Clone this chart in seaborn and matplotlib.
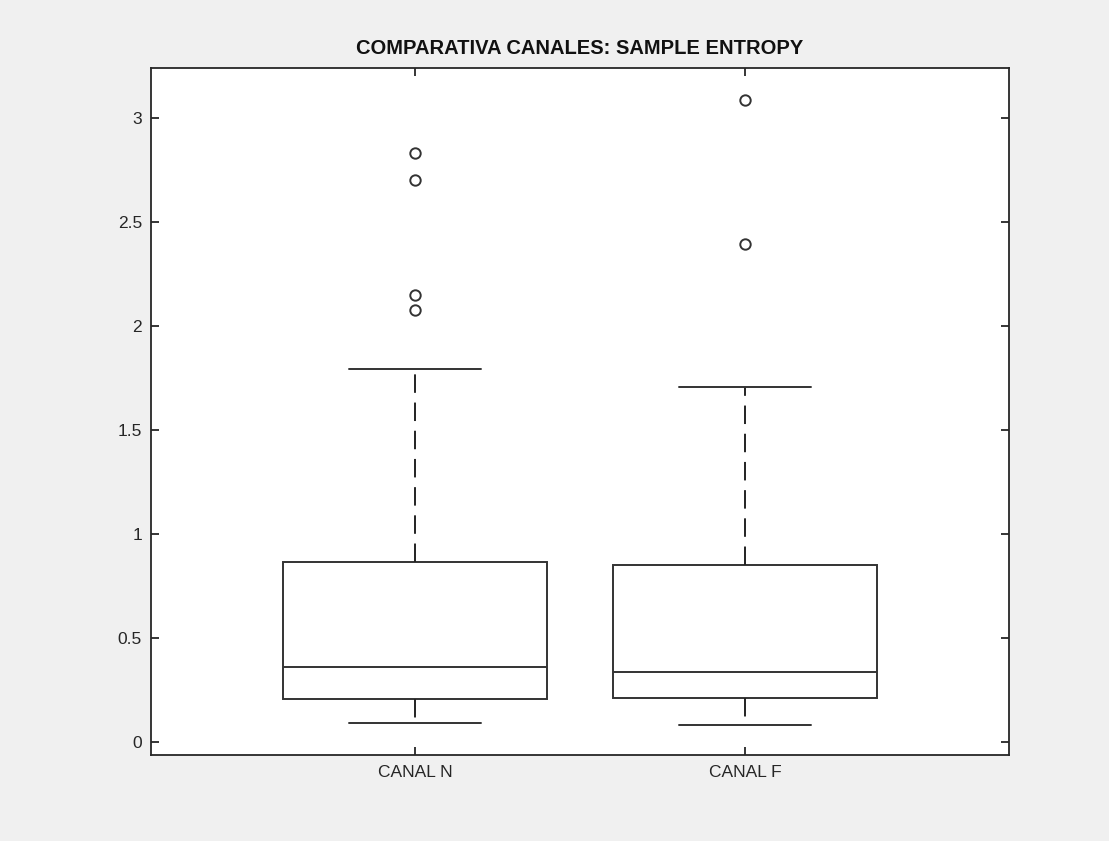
import numpy as np
import pandas as pd
import matplotlib
matplotlib.use("Agg")
import matplotlib.pyplot as plt
import seaborn as sns

canal_n = [0.093, 0.11, 0.13, 0.16, 0.18, 0.205, 0.23, 0.26, 0.29, 0.32, 0.359,
           0.42, 0.51, 0.63, 0.75, 0.867, 1.792, 2.079, 2.147, 2.704, 2.830]
canal_f = [0.082, 0.10, 0.13, 0.16, 0.19, 0.211, 0.23, 0.25, 0.28, 0.31, 0.336,
           0.40, 0.49, 0.60, 0.72, 0.851, 1.10, 1.45, 1.707, 2.396, 3.088]
categories = ["CANAL N", "CANAL F"]
yticks = [0, 0.5, 1, 1.5, 2, 2.5, 3]
ytick_labels = ["0", "0.5", "1", "1.5", "2", "2.5", "3"]
title = "COMPARATIVA CANALES: SAMPLE ENTROPY"

df = pd.DataFrame({
    "canal": [categories[0]] * len(canal_n) + [categories[1]] * len(canal_f),
    "valor": canal_n + canal_f,
})

sns.set_style("white")
plt.rcParams["font.family"] = ["Liberation Sans", "DejaVu Sans"]

edge = "#262626"
line = "#333333"
fig = plt.figure(figsize=(11.09, 8.41), dpi=100, facecolor="#f0f0f0")
ax = fig.add_axes([151 / 1109, 1 - 755 / 841, (1009 - 151) / 1109, (755 - 68) / 841])
ax.set_facecolor("white")

sns.boxplot(
    data=df, x="canal", y="valor", order=categories, ax=ax,
    color="white", linecolor=line, width=0.8, linewidth=1.4, saturation=1,
    whis=1.5,
    boxprops=dict(facecolor="white", edgecolor=line),
    whiskerprops=dict(linestyle=(0, (9.5, 5)), color="#222222"),
    capprops=dict(color=line),
    medianprops=dict(color=line),
    flierprops=dict(marker="o", markerfacecolor="none", markeredgecolor=line,
                    markersize=7.5, markeredgewidth=1.4),
)

ax.set_xlim(-0.8, 1.8)
ax.set_ylim(-0.0625, 3.24)
ax.set_yticks(yticks)
ax.set_yticklabels(ytick_labels)
ax.set_xlabel("")
ax.set_ylabel("")
ax.set_title(title, fontsize=14.5, fontweight="bold", color="#111111", pad=10)

for s in ax.spines.values():
    s.set_visible(True)
    s.set_color(edge)
    s.set_linewidth(1.3)
ax.tick_params(axis="both", direction="in", length=6, width=1.3, color=edge,
               labelsize=12.5, labelcolor=edge, top=True, right=True,
               left=True, bottom=True)
ax.tick_params(axis="y", pad=6.5)
ax.tick_params(axis="x", pad=7)

fig.savefig("out.png", dpi=100, facecolor=fig.get_facecolor())
